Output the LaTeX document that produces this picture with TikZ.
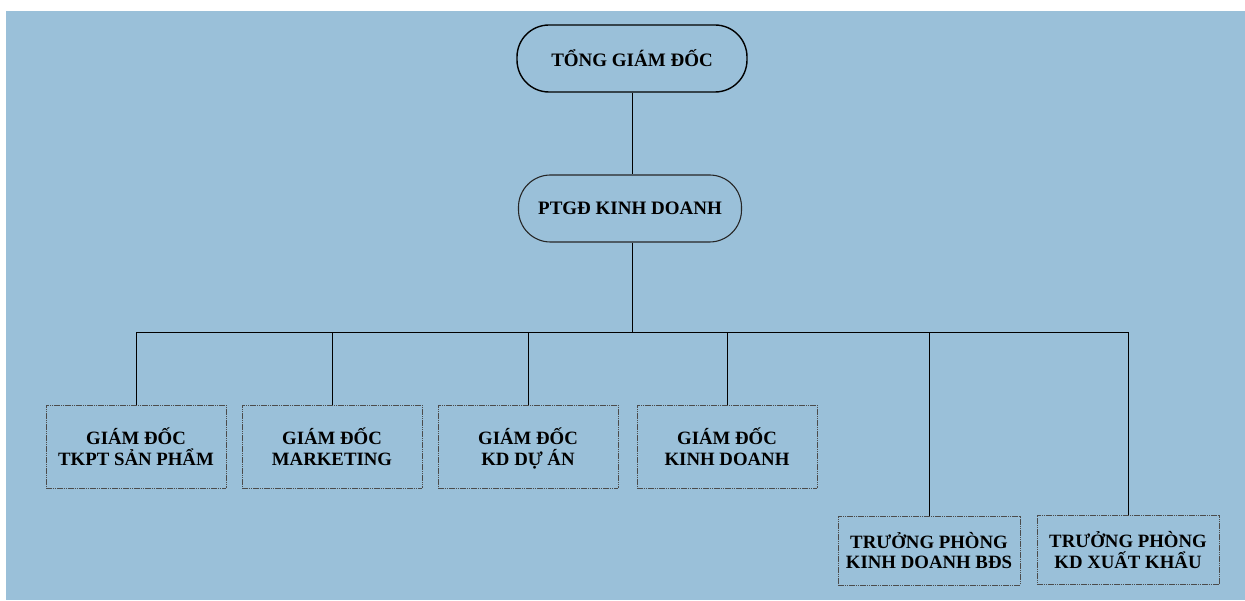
\documentclass[tikz,border=0pt]{standalone}
\usepackage{fontspec}
\setmainfont{Liberation Serif}
\definecolor{panelblue}{RGB}{154,192,217}
\begin{document}
\begin{tikzpicture}[x=1pt,y=-1pt,
  head/.style={draw=black, line width=1.4pt, rounded corners=32pt,
    minimum width=230pt, minimum height=67pt, inner sep=0pt,
    font=\fontsize{19}{22}\selectfont\bfseries},
  subhead/.style={draw=black!85, line width=1.1pt, rounded corners=32pt,
    minimum width=223pt, minimum height=67pt, inner sep=0pt,
    font=\fontsize{19}{22}\selectfont\bfseries},
  unitbox/.style={draw=black!70, line width=0.7pt, dash pattern=on 1.6pt off 0.6pt,
    minimum width=180pt, minimum height=83pt, inner sep=0pt, align=center,
    text depth=-4pt, font=\fontsize{18.8}{20.5}\selectfont\bfseries},
  lowbox/.style={unitbox, minimum width=182pt, minimum height=69pt, text depth=0pt},
  link/.style={draw=black, line width=1pt}]
  % page and panel
  \useasboundingbox (0,0) rectangle (1245,601);
  \fill[white] (0,0) rectangle (1245,601);
  \fill[panelblue] (6,11) rectangle (1245,600);

  % management
  \node[head] (tgd) at (632,58.5) {TỔNG GIÁM ĐỐC};
  \node[subhead] (ptgd) at (630,208.5) {PTGĐ KINH DOANH};

  % units
  \node[unitbox] (b1) at (136,446.5) {GIÁM ĐỐC\\TKPT SẢN PHẨM};
  \node[unitbox] (b2) at (332,446.5) {GIÁM ĐỐC\\MARKETING};
  \node[unitbox] (b3) at (528,446.5) {GIÁM ĐỐC\\KD DỰ ÁN};
  \node[unitbox] (b4) at (727,446.5) {GIÁM ĐỐC\\KINH DOANH};
  \node[lowbox] (b5) at (929,550.5) {TRƯỞNG PHÒNG\\KINH DOANH BĐS};
  \node[lowbox] (b6) at (1128,550) {TRƯỞNG PHÒNG\\KD XUẤT KHẨU};

  % connectors
  \coordinate (bar) at (632,333);
  \draw[link] (tgd.south) -- (tgd.south |- ptgd.north);
  \draw[link] (tgd.south |- ptgd.south) -- (tgd.south |- bar);
  \draw[link] (b1.north) |- (b6.north |- bar) -- (b6.north);
  \foreach \b in {b2,b3,b4,b5}
    \draw[link] (\b.north) -- (\b.north |- bar);
\end{tikzpicture}
\end{document}
